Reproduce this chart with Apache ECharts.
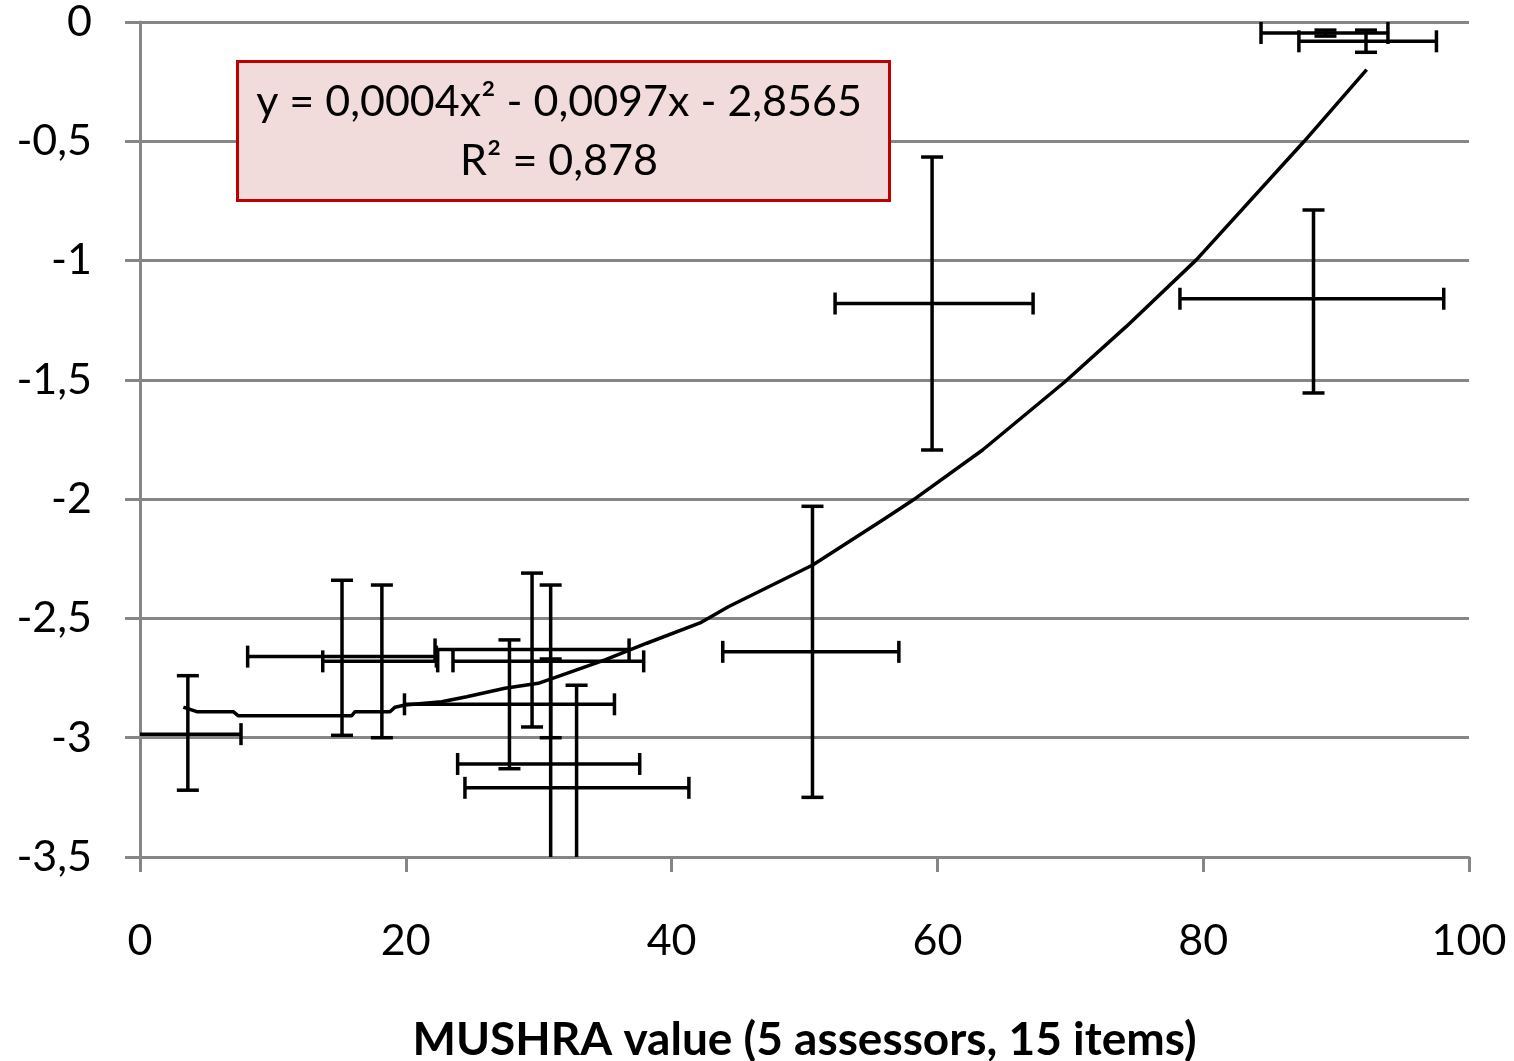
<!DOCTYPE html>
<html>
<head>
<meta charset="utf-8">
<script src="https://cdn.jsdelivr.net/npm/echarts@6/dist/echarts.min.js"></script>
<style>
  html, body { margin: 0; padding: 0; background: #fff; }
  #chart { width: 1514px; height: 1061px; }
</style>
</head>
<body>
<div id="chart"></div>
<script>
// MUSHRA value (x) vs objective score (y), with error bars in both directions
var mushraX     = [3.6, 15.2, 18.2, 29.5, 27.8, 30.9, 30.9, 32.85, 50.6, 59.6, 88.3, 89.2, 92.25];
var mushraLow   = [-0.4, 8.1, 13.75, 22.2, 19.9, 23.55, 23.9, 24.45, 43.85, 52.3, 78.25, 84.35, 87.2];
var mushraHigh  = [7.6, 22.3, 22.4, 36.8, 35.7, 37.9, 37.6, 41.3, 57.1, 67.2, 98.1, 93.9, 97.55];
var scoreY      = [-2.985, -2.66, -2.68, -2.63, -2.86, -2.68, -3.11, -3.21, -2.64, -1.18, -1.16, -0.046, -0.081];
var scoreLow    = [-3.22, -2.99, -3.0, -2.955, -3.13, -3.0, -3.56, -3.63, -3.25, -1.794, -1.555, -0.059, -0.127];
var scoreHigh   = [-2.74, -2.34, -2.36, -2.31, -2.59, -2.36, -2.67, -2.78, -2.03, -0.566, -0.788, -0.034, -0.034];

// polynomial trend line as drawn in the picture
var trendX = [3.26, 4.27, 7.02, 7.4, 15.93, 16.18, 18.81, 19.19, 19.94, 22.7, 24.58, 27.46, 29.97, 32.11, 34.99, 38.13, 42.14, 44.27, 50.62, 56.0, 58.4, 63.4, 69.6, 74.2, 79.5, 87.6, 92.3];
var trendY = [-2.872, -2.891, -2.891, -2.908, -2.908, -2.891, -2.891, -2.872, -2.863, -2.849, -2.828, -2.793, -2.772, -2.73, -2.674, -2.604, -2.519, -2.451, -2.276, -2.083, -1.995, -1.794, -1.508, -1.277, -0.996, -0.5, -0.2];

var yTicks = { min: -3.5, max: 0, step: 0.5 };
var xTicks = { min: 0, max: 100, step: 20 };

var fitLine1 = 'y = 0,0004x² - 0,0097x - 2,8565';
var fitLine2 = 'R² = 0,878';

var gray = '#868686';
var font = 'Lato';

var errData = mushraX.map(function (x, i) {
  return [x, scoreY[i], mushraLow[i], mushraHigh[i], scoreLow[i], scoreHigh[i]];
});
var trendData = trendX.map(function (x, i) { return [x, trendY[i]]; });

function clamp(v, a, b) { return Math.max(a, Math.min(b, v)); }

function renderErr(params, api) {
  var x = api.value(0), y = api.value(1);
  var xl = api.value(2), xh = api.value(3), yl = api.value(4), yh = api.value(5);
  var cap = 11;
  var style = { stroke: '#000', lineWidth: 3.5 };
  var kids = [];
  var xl2 = clamp(xl, xTicks.min, xTicks.max), xh2 = clamp(xh, xTicks.min, xTicks.max);
  var yl2 = clamp(yl, yTicks.min, yTicks.max), yh2 = clamp(yh, yTicks.min, yTicks.max);
  var pL = api.coord([xl2, y]), pR = api.coord([xh2, y]);
  var pB = api.coord([x, yl2]), pT = api.coord([x, yh2]);
  kids.push({ type: 'line', shape: { x1: pL[0], y1: pL[1], x2: pR[0], y2: pR[1] }, style: style });
  kids.push({ type: 'line', shape: { x1: pB[0], y1: pB[1], x2: pT[0], y2: pT[1] }, style: style });
  if (xl === xl2) kids.push({ type: 'line', shape: { x1: pL[0], y1: pL[1] - cap, x2: pL[0], y2: pL[1] + cap }, style: style });
  if (xh === xh2) kids.push({ type: 'line', shape: { x1: pR[0], y1: pR[1] - cap, x2: pR[0], y2: pR[1] + cap }, style: style });
  if (yl === yl2) kids.push({ type: 'line', shape: { x1: pB[0] - cap, y1: pB[1], x2: pB[0] + cap, y2: pB[1] }, style: style });
  if (yh === yh2) kids.push({ type: 'line', shape: { x1: pT[0] - cap, y1: pT[1], x2: pT[0] + cap, y2: pT[1] }, style: style });
  return { type: 'group', children: kids };
}

var chart = echarts.init(document.getElementById('chart'));
chart.setOption({
  animation: false,
  backgroundColor: '#fff',
  grid: { left: 140, right: 45, top: 22, bottom: 204, outerBoundsMode: 'none' },
  xAxis: {
    type: 'value',
    min: xTicks.min, max: xTicks.max, interval: xTicks.step,
    name: 'MUSHRA value (5 assessors, 15 items)',
    nameLocation: 'middle',
    nameGap: 160,
    nameTextStyle: { fontFamily: font, fontSize: 46, fontWeight: 'bold', color: '#000' },
    axisLine: { show: true, onZero: false, lineStyle: { color: gray, width: 3 } },
    axisTick: { show: true, length: 15, lineStyle: { color: gray, width: 3 } },
    axisLabel: { fontFamily: font, fontSize: 43, color: '#000', margin: 63 },
    splitLine: { show: false }
  },
  yAxis: {
    type: 'value',
    min: yTicks.min, max: yTicks.max, interval: yTicks.step,
    axisLine: { show: true, onZero: false, lineStyle: { color: gray, width: 3 } },
    axisTick: { show: true, length: 15, lineStyle: { color: gray, width: 3 } },
    axisLabel: {
      fontFamily: font, fontSize: 43, color: '#000', margin: 48,
      formatter: function (v) { return String(v).replace('.', ','); }
    },
    splitLine: { show: true, lineStyle: { color: gray, width: 3 } }
  },
  graphic: [
    {
      type: 'rect', left: 236, top: 60, z: 100,
      shape: { width: 652, height: 139 },
      style: { fill: '#f2dcdb', stroke: '#c00000', lineWidth: 3 }
    },
    {
      type: 'text', x: 559, y: 102, z: 101,
      style: { text: fitLine1, fontFamily: font, fontSize: 43, fill: '#000', align: 'center', verticalAlign: 'middle' }
    },
    {
      type: 'text', x: 559, y: 161, z: 101,
      style: { text: fitLine2, fontFamily: font, fontSize: 43, fill: '#000', align: 'center', verticalAlign: 'middle' }
    }
  ],
  series: [
    {
      type: 'custom',
      renderItem: renderErr,
      encode: { x: 0, y: 1 },
      data: errData,
      z: 3
    },
    {
      type: 'line',
      data: trendData,
      showSymbol: false,
      symbol: 'none',
      lineStyle: { color: '#000', width: 3.5 },
      z: 4
    }
  ]
});
window.addEventListener('resize', function () { chart.resize(); });
</script>
</body>
</html>
